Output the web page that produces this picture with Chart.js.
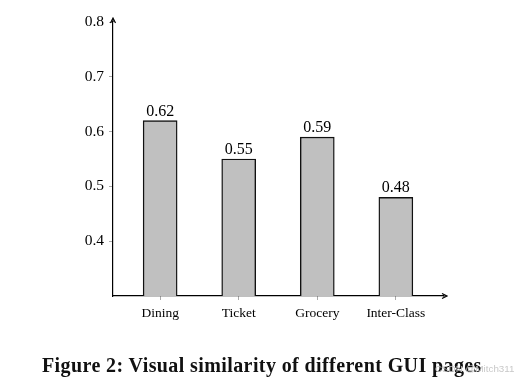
<!DOCTYPE html>
<html>
<head>
<meta charset="utf-8">
<script src="https://cdn.jsdelivr.net/npm/chart.js@4.4.1/dist/chart.umd.min.js"></script>
<style>
  html, body { margin: 0; padding: 0; background: #fff; }
  #wrap { position: relative; width: 517px; height: 390px; }
  #caption {
    position: absolute; left: 42px; top: 354px; white-space: nowrap;
    font: bold 20px "Liberation Serif", serif; letter-spacing: 0.4px; color: #111;
  }
  #mark {
    position: absolute; left: 435px; top: 363px; white-space: nowrap;
    font: 9.8px "Liberation Sans", sans-serif; color: #c8c8c8;
  }
</style>
</head>
<body>
<div id="wrap">
  <canvas id="chart" width="517" height="390"></canvas>
  <div id="caption">Figure 2: Visual similarity of different GUI pages</div>
  <div id="mark">CSDN @Mitch311</div>
</div>
<script>
const categories = ['Dining', 'Ticket', 'Grocery', 'Inter-Class'];
const similarity = [0.62, 0.55, 0.59, 0.48];
const yTicks = [0.4, 0.5, 0.6, 0.7, 0.8];

const SERIF = '"Liberation Serif", serif';

// value labels above bars + arrow heads on both axes
const extras = {
  id: 'extras',
  afterDraw(chart) {
    const { ctx, scales: { x, y } } = chart;
    const meta = chart.getDatasetMeta(0);
    ctx.save();
    ctx.fillStyle = '#000';
    ctx.font = '16px ' + SERIF;
    ctx.textAlign = 'center';
    ctx.textBaseline = 'alphabetic';
    meta.data.forEach((bar, i) => {
      ctx.fillText(similarity[i].toFixed(2), bar.x, bar.y - 5);
    });

    const x0 = x.left, y0 = y.bottom;
    ctx.strokeStyle = '#000';
    ctx.lineWidth = 1.2;
    ctx.beginPath();
    ctx.moveTo(x0, y.top);
    ctx.lineTo(x0, y.top - 3);
    ctx.moveTo(x.right, y0);
    ctx.lineTo(x.right + 3, y0);
    ctx.stroke();
    // arrows
    ctx.beginPath();
    ctx.moveTo(x0 - 2.5, y.top + 1);
    ctx.lineTo(x0, y.top - 4);
    ctx.lineTo(x0 + 2.5, y.top + 1);
    ctx.moveTo(x.right - 1, y0 - 2.5);
    ctx.lineTo(x.right + 4, y0);
    ctx.lineTo(x.right - 1, y0 + 2.5);
    ctx.stroke();
    ctx.restore();
  }
};

new Chart(document.getElementById('chart'), {
  type: 'bar',
  data: {
    datasets: [{
      data: similarity.map((v, i) => ({ x: i, y: v })),
      backgroundColor: '#c0c0c0',
      borderColor: '#111',
      borderWidth: 1.4,
      borderSkipped: 'bottom',
      barThickness: 34
    }]
  },
  options: {
    responsive: false,
    animation: false,
    layout: { padding: { left: 0, top: 22, right: 74, bottom: 0 } },
    plugins: { legend: { display: false }, tooltip: { enabled: false } },
    scales: {
      x: {
        type: 'linear',
        offset: false,
        min: -0.6,
        max: 3.6,
        afterBuildTicks: s => { s.ticks = categories.map((c, i) => ({ value: i })); },
        afterFit: s => { s.height = 390 - 296; },
        ticks: {
          callback: v => categories[v],
          font: { family: SERIF, size: 13.5 },
          color: '#000',
          padding: 5,
          maxRotation: 0
        },
        grid: { offset: false, drawOnChartArea: false, drawTicks: true, tickLength: 4, color: '#aaa' },
        border: { display: true, color: '#000', width: 1.2 }
      },
      y: {
        min: 0.3,
        max: 0.8,
        afterBuildTicks: s => { s.ticks = yTicks.map(v => ({ value: v })); },
        afterFit: s => { s.width = 113; },
        ticks: {
          callback: v => v.toFixed(1),
          font: { family: SERIF, size: 15.5 },
          color: '#000',
          padding: 5
        },
        grid: { drawOnChartArea: false, drawTicks: true, tickLength: 4, color: '#aaa' },
        border: { display: true, color: '#000', width: 1.2 }
      }
    }
  },
  plugins: [extras]
});
</script>
</body>
</html>
